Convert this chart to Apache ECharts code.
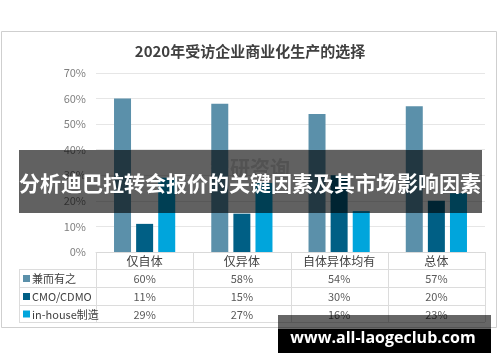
<!DOCTYPE html>
<html><head><meta charset="utf-8">
<script src="https://cdn.jsdelivr.net/npm/echarts@6/dist/echarts.min.js"></script>
<style>html,body{margin:0;padding:0;background:#fff}#c{width:500px;height:362px}</style>
</head><body><div id="c"></div>
<script>
const titleText = '2020年受访企业商业化生产的选择';
const categories = ['仅自体', '仅异体', '自体异体均有', '总体'];
const seriesNames = ['兼而有之', 'CMO/CDMO', 'in-house制造'];
const bothValues = [60, 58, 54, 57];
const cmoValues = [11, 15, 30, 20];
const inhouseValues = [29, 27, 16, 23];
const colors = ['#5b90aa', '#005f85', '#00a5dc'];
const bannerText = '分析迪巴拉转会报价的关键因素及其市场影响因素';
const watermarkText = 'www.all-laogeclub.com';
const logoText = '智研咨询';

const allValues = [bothValues, cmoValues, inhouseValues];
const FONT = '"Noto Sans CJK SC", "Noto Sans", sans-serif';

const chart = echarts.init(document.getElementById('c'), null, {renderer: 'canvas'});
const gridL = 96, gridR = 15, gridT = 73, gridB = 110;

chart.setOption({
  animation: false,
  backgroundColor: '#fff',
  title: {
    text: titleText, left: 'center', top: 39,
    textStyle: {fontFamily: FONT, fontSize: 15, fontWeight: 'bold', color: '#404040'}
  },
  grid: {left: gridL, right: gridR, top: gridT, bottom: gridB},
  xAxis: {
    type: 'category', data: categories,
    axisLine: {show: true, lineStyle: {color: '#d9d9d9'}},
    axisTick: {show: false}, axisLabel: {show: false}
  },
  yAxis: {
    type: 'value', min: 0, max: 70, interval: 10,
    axisLabel: {formatter: '{value}%', color: '#808080', fontSize: 11, fontFamily: FONT, margin: 10},
    axisLine: {show: false}, axisTick: {show: false},
    splitLine: {lineStyle: {color: '#e6e6e6'}}
  },
  series: seriesNames.map((n, i) => ({
    name: n, type: 'bar', data: allValues[i], barWidth: 17, barGap: '30%',
    itemStyle: {color: colors[i]}
  }))
});

const g = [];
// chart border
g.push({type: 'rect', shape: {x: 1.5, y: 31.5, width: 495, height: 296}, style: {fill: 'none', stroke: '#cfcfcf', lineWidth: 1}, z: 1});

// table
const x0 = gridL, x1 = 500 - gridR, legX = 19;
const bw = (x1 - x0) / categories.length;
const yH = 252, rowH = [17, 18, 18, 17];
const rowY = [yH];
rowH.forEach((h, i) => rowY.push(rowY[i] + h));
const lineC = '#dcdcdc';
for (let r = 1; r < rowY.length; r++) {
  g.push({type: 'line', shape: {x1: legX, y1: rowY[r] + 0.5, x2: x1, y2: rowY[r] + 0.5}, style: {stroke: lineC, lineWidth: 1}, z: 5});
}
for (let c = 0; c <= categories.length; c++) {
  const xx = Math.round(x0 + c * bw) + 0.5;
  g.push({type: 'line', shape: {x1: xx, y1: yH, x2: xx, y2: rowY[4]}, style: {stroke: lineC, lineWidth: 1}, z: 5});
}
g.push({type: 'line', shape: {x1: legX + 0.5, y1: rowY[1], x2: legX + 0.5, y2: rowY[4]}, style: {stroke: lineC, lineWidth: 1}, z: 5});

categories.forEach((cat, c) => {
  const cx = chart.convertToPixel({xAxisIndex: 0}, cat);
  g.push({type: 'text', x: cx, y: (rowY[0] + rowY[1]) / 2 + 1, style: {text: cat, align: 'center', verticalAlign: 'middle', fill: '#404040', font: '12px ' + FONT}, z: 6});
  allValues.forEach((vals, r) => {
    g.push({type: 'text', x: cx, y: (rowY[r + 1] + rowY[r + 2]) / 2 + 1, style: {text: vals[c] + '%', align: 'center', verticalAlign: 'middle', fill: '#595959', font: '11px ' + FONT}, z: 6});
  });
});
seriesNames.forEach((n, r) => {
  const cy = (rowY[r + 1] + rowY[r + 2]) / 2;
  g.push({type: 'rect', shape: {x: 23, y: cy - 3, width: 7, height: 7}, style: {fill: colors[r]}, z: 6});
  g.push({type: 'text', x: 32, y: cy + 1, style: {text: n, align: 'left', verticalAlign: 'middle', fill: '#404040', font: '11px ' + FONT}, z: 6});
});

// faint logo text
g.push({type: 'text', x: 250, y: 168, style: {text: logoText, align: 'center', verticalAlign: 'middle', fill: '#d8d8d8', font: 'bold 20px ' + FONT}, z: 2});

// banner
g.push({type: 'rect', shape: {x: 19, y: 150, width: 463, height: 63}, style: {fill: 'rgba(0,0,0,0.62)'}, z: 100});
g.push({type: 'text', x: 250, y: 183, style: {text: bannerText, align: 'center', verticalAlign: 'middle', fill: '#ffffff', font: 'bold 21px ' + FONT}, z: 101});

// watermark
g.push({type: 'rect', shape: {x: 278, y: 315, width: 213, height: 14}, style: {fill: 'rgba(0,0,0,0.6)'}, z: 100});
g.push({type: 'rect', shape: {x: 278, y: 329, width: 213, height: 24}, style: {fill: '#000000'}, z: 100});
g.push({type: 'text', x: 383, y: 338, style: {text: watermarkText, align: 'center', verticalAlign: 'middle', fill: '#ffffff', font: 'bold 16px "Open Sans", "Noto Sans", sans-serif'}, z: 101});

chart.setOption({graphic: {elements: g}});
</script>
</body></html>
